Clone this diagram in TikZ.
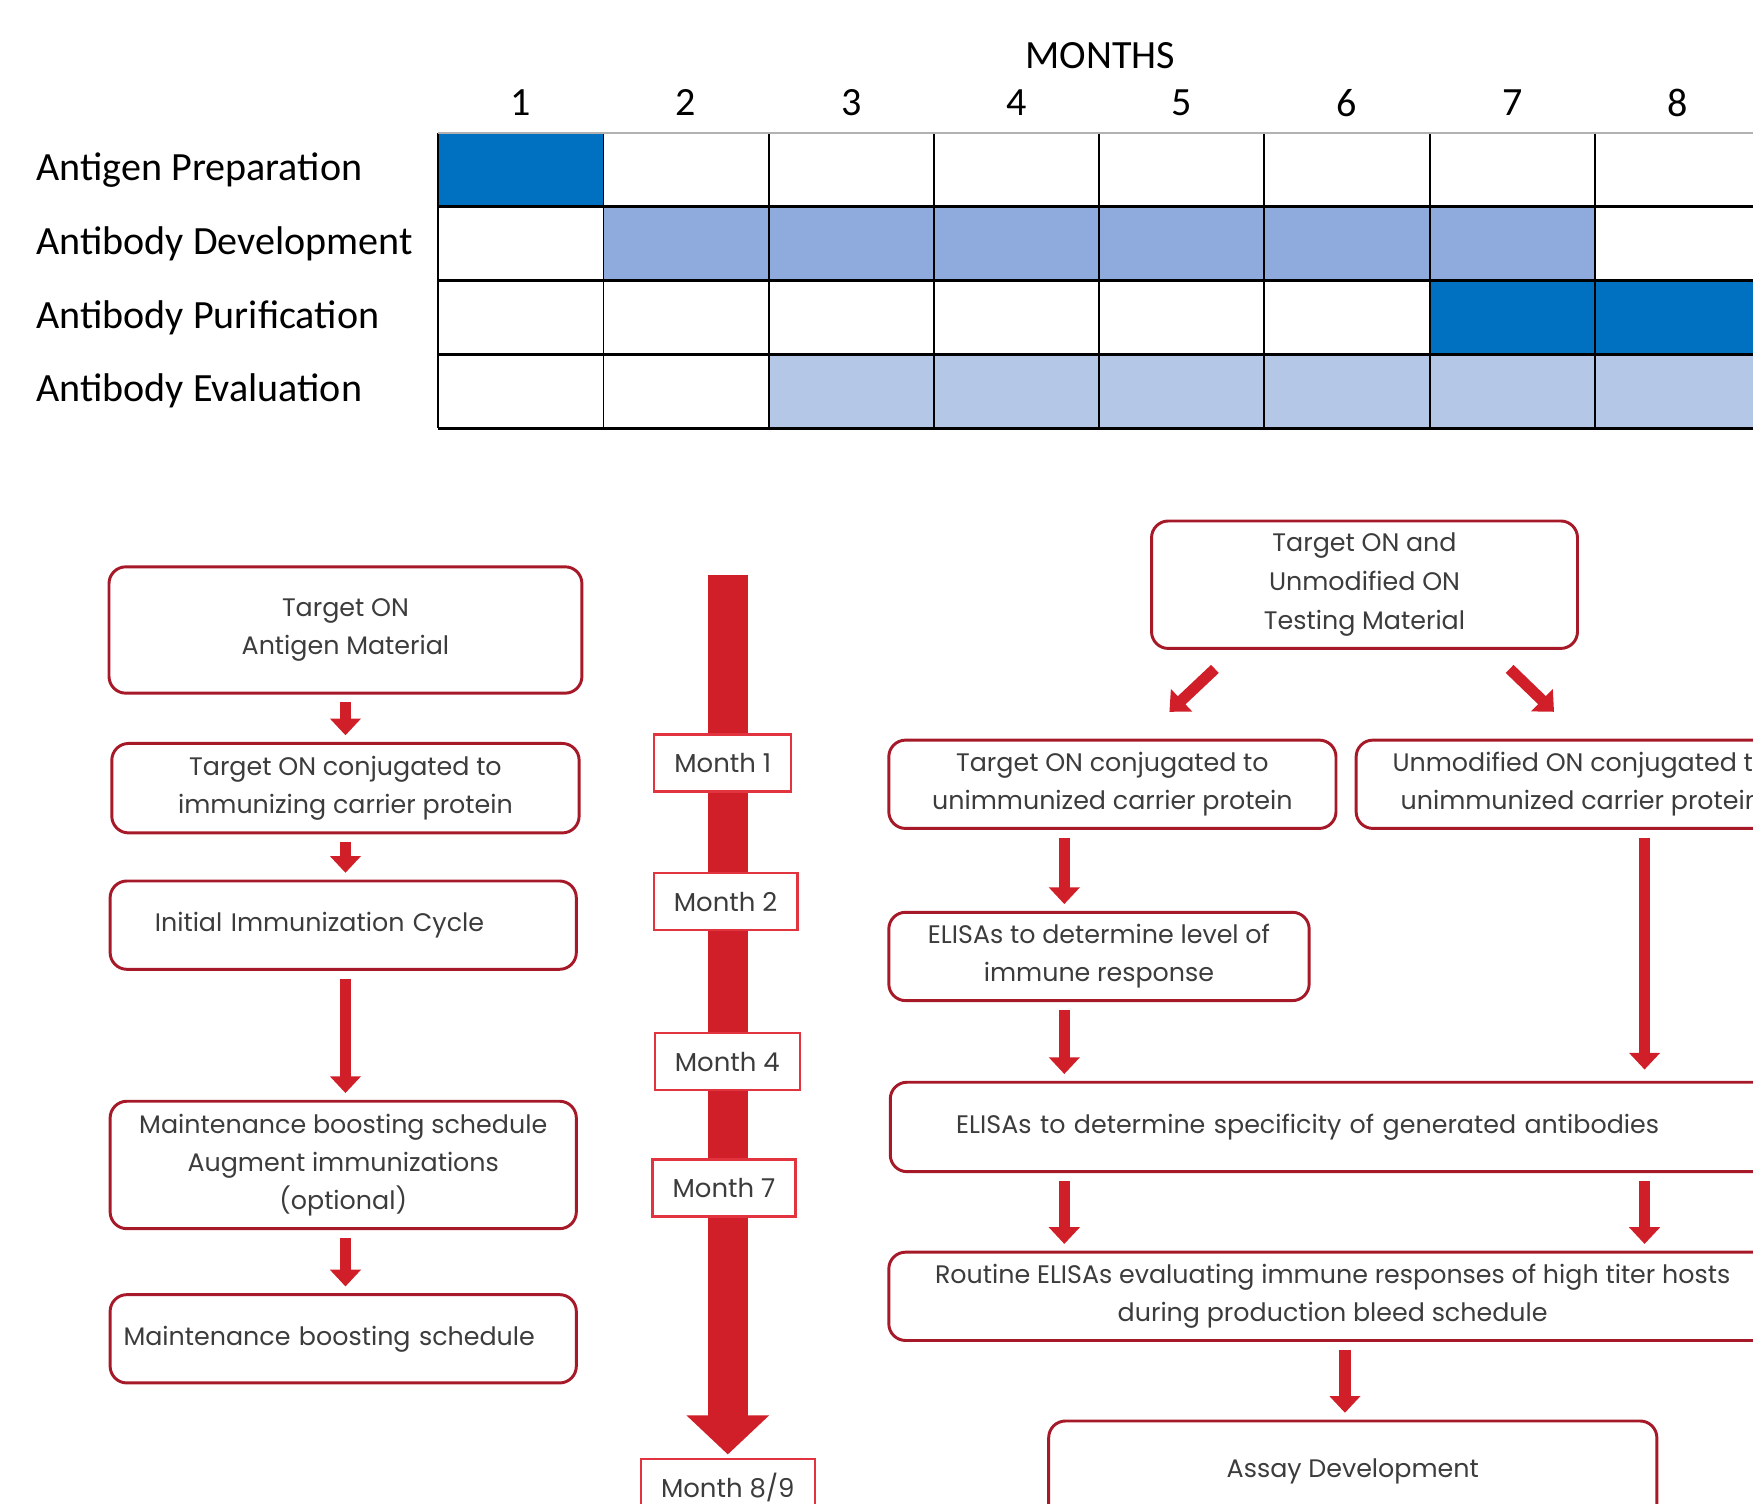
\documentclass[tikz,border=0pt]{standalone}
\usepackage{fontspec}
\usepackage{tikz}
\usetikzlibrary{arrows.meta,positioning,calc}
\newfontfamily\gridfont{Carlito}
\newfontfamily\flowfont{Poppins}
\definecolor{boxred}{RGB}{166,25,40}
\definecolor{arrowred}{RGB}{208,31,40}
\definecolor{monthred}{RGB}{226,52,62}
\definecolor{txtgray}{RGB}{60,60,60}
\definecolor{darkblue}{RGB}{0,112,192}
\definecolor{midblue}{RGB}{143,170,220}
\definecolor{lightblue}{RGB}{180,199,231}

\begin{document}
\begin{tikzpicture}[
  gridline/.style={black, line width=0.5pt},
  gridtext/.style={font=\gridfont\fontsize{10.2}{12}\selectfont},
  rowlabel/.style={gridtext, anchor=west, inner sep=0pt},
  flowbox/.style={draw=boxred, line width=0.75pt, rounded corners=0.15cm, fill=white,
    align=center, text=txtgray, font=\flowfont\fontsize{6.45}{9.7}\selectfont, inner sep=0pt},
  monthbox/.style={draw=monthred, line width=0.6pt, fill=white, text=txtgray,
    font=\flowfont\fontsize{6.6}{9.7}\selectfont, minimum height=0.51cm, inner xsep=0.18cm},
  flowarrow/.style={arrowred, line width=0.10cm, -{Triangle[width=0.27cm,length=0.15cm]},
    shorten <=0.07cm, shorten >=0.06cm},
  bigarrow/.style={arrowred, line width=0.36cm, -{Triangle[width=0.72cm,length=0.35cm]}}
]
\useasboundingbox (0,0) rectangle (15.68,-13.45);
\clip (0,0) rectangle (15.68,-13.45);

% Months header
\node[gridtext] (months) at (9.84,-0.50) {MONTHS};
\foreach \c in {1,...,8}
  \node[gridtext] (num\c) at ({3.92+(\c-0.5)*1.478},-0.92) {\c};

% Gantt cells
\foreach \r/\c/\col in {1/1/darkblue, 2/2/midblue, 2/3/midblue, 2/4/midblue, 2/5/midblue,
    2/6/midblue, 2/7/midblue, 3/7/darkblue, 3/8/darkblue, 4/3/lightblue, 4/4/lightblue,
    4/5/lightblue, 4/6/lightblue, 4/7/lightblue, 4/8/lightblue}
  \fill[\col] ({3.92+(\c-1)*1.478},{-1.19-(\r-1)*0.66}) rectangle ++(1.478,-0.66);
\foreach \c in {0,...,8}
  \draw[gridline] ({3.92+\c*1.478},-1.19) -- ++(0,-2.64);
\foreach \r in {1,...,4}
  \draw[gridline, line width=0.7pt] (3.92,{-1.19-\r*0.66}) -- (15.68,{-1.19-\r*0.66});
\draw[gridline, gray!60] (3.92,-1.19) -- (15.68,-1.19);

% Row labels
\node[rowlabel] (antigenprep) at (0.32,-1.52) {Antigen Preparation};
\node[rowlabel] (abdev) at (0.32,-2.18) {Antibody Development};
\node[rowlabel] (abpur) at (0.32,-2.84) {Antibody Purification};
\node[rowlabel] (abeval) at (0.32,-3.50) {Antibody Evaluation};

% Immunization column
\node[flowbox, minimum width=4.23cm, minimum height=1.13cm] (antigen) at (3.09,-5.635) {Target ON\\Antigen Material};
\node[flowbox, minimum width=4.18cm, minimum height=0.80cm] (conjImm) at (3.09,-7.05) {Target ON conjugated to\\immunizing carrier protein};
\node[flowbox, minimum height=0.79cm, text width=3.37cm, align=left, inner xsep=0.40cm] (initial) at (3.07,-8.275) {Initial Immunization Cycle};
\node[flowbox, minimum width=4.17cm, minimum height=1.14cm] (boost) at (3.07,-10.42) {Maintenance boosting schedule\\Augment immunizations\\(optional)};
\node[flowbox, minimum height=0.79cm, text width=3.93cm, align=left, inner xsep=0.12cm] (maint) at (3.07,-11.975) {Maintenance boosting schedule};

\draw[flowarrow] (antigen.south) -- (conjImm.north);
\draw[flowarrow] (conjImm.south) -- (conjImm.south |- initial.north);
\draw[flowarrow] (initial.south -| conjImm.south) -- (conjImm.south |- boost.north);
\draw[flowarrow] (boost.south -| conjImm.south) -- (conjImm.south |- maint.north);

% Timeline arrow with months
\node[monthbox] (m89) at (6.51,-13.305) {Month 8/9};
\coordinate (tltop) at (6.51,-5.14);
\draw[bigarrow, shorten >=0.03cm] (tltop) -- (m89.north);
\node[monthbox] (m1) at (6.465,-6.825) {Month 1};
\node[monthbox] (m2) at (6.49,-8.065) {Month 2};
\node[monthbox] (m4) at (6.505,-9.495) {Month 4};
\node[monthbox] (m7) at (6.475,-10.625) {Month 7};

% Testing column
\node[flowbox, minimum width=3.81cm, minimum height=1.14cm, font=\flowfont\fontsize{6.45}{10}\selectfont] (testing) at (12.205,-5.23) {Target ON and\\Unmodified ON\\Testing Material};
\node[flowbox, minimum width=4.00cm, minimum height=0.79cm] (conjT) at (9.95,-7.015) {Target ON conjugated to\\unimmunized carrier protein};
\node[flowbox, minimum width=4.02cm, minimum height=0.79cm] (conjU) at (14.14,-7.015) {Unmodified ON conjugated to\\unimmunized carrier protein};
\node[flowbox, minimum width=3.76cm, minimum height=0.79cm] (level) at (9.83,-8.555) {ELISAs to determine level of\\immune response};
\node[flowbox, anchor=west, minimum height=0.80cm, text width=7.4cm, align=left, inner xsep=0.59cm] (specific) at (7.95,-10.08) {ELISAs to determine specificity of generated antibodies};
\node[flowbox, minimum width=7.94cm, minimum height=0.79cm] (routine) at (11.92,-11.595) {Routine ELISAs evaluating immune responses of high titer hosts\\during production bleed schedule};
\node[flowbox, minimum width=5.44cm, minimum height=0.90cm] (assay) at (12.10,-13.16) {Assay Development};

\coordinate (colL) at (9.52,0);
\coordinate (colR) at (14.71,0);
\coordinate (colM) at (12.03,0);
\draw[flowarrow, shorten <=0pt, shorten >=0pt] ([shift={(0.58,-0.17)}]testing.south west) -- ([shift={(0.51,0.24)}]conjT.north);
\draw[flowarrow, shorten <=0pt, shorten >=0pt] ([shift={(-0.62,-0.17)}]testing.south east) -- ([shift={(-0.24,0.24)}]conjU.north);
\draw[flowarrow] (conjT.south -| colL) -- (level.north -| colL);
\draw[flowarrow] (level.south -| colL) -- (specific.north -| colL);
\draw[flowarrow, shorten >=0.1cm] (conjU.south -| colR) -- (specific.north -| colR);
\draw[flowarrow] (specific.south -| colL) -- (routine.north -| colL);
\draw[flowarrow] (specific.south -| colR) -- (routine.north -| colR);
\draw[flowarrow] (routine.south -| colM) -- (assay.north -| colM);
\end{tikzpicture}
\end{document}
